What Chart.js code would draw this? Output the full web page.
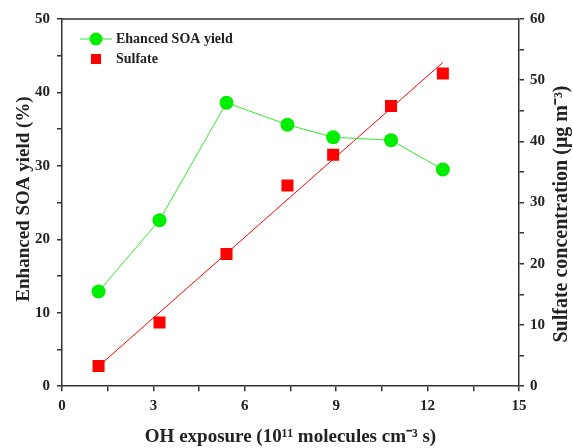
<!DOCTYPE html>
<html lang="en">
<head>
<meta charset="UTF-8">
<title>SOA yield vs OH exposure</title>
<script src="https://cdn.jsdelivr.net/npm/chart.js@4.4.0/dist/chart.umd.min.js"></script>
<style>
  body { margin: 0; background: #fff; }
  #wrap { width: 573px; height: 448px; }
</style>
</head>
<body>
<div id="wrap"><canvas id="chart"></canvas></div>
<script>
// OH exposure (10^11 molecules cm^-3 s)
var ohExposure = [1.2, 3.2, 5.4, 7.4, 8.9, 10.8, 12.5];
// enhanced SOA yield (%) - left axis
var soaYield = [12.9, 22.6, 38.6, 35.6, 33.9, 33.5, 29.5];
// sulfate (ug m-3) - right axis
var sulfate = [3.3, 10.4, 21.6, 32.8, 37.8, 45.8, 51.1];
// linear fit of sulfate, end points
var fitX = [1.2, 12.5];
var fitY = [3.25, 52.9];

function pairs(xs, ys) {
    return xs.map(function (x, i) { return { x: x, y: ys[i] }; });
}

var serif = "'Liberation Serif', 'Times New Roman', serif";
var green = '#00ee00';
var greenLine = '#33e833';
var red = '#ff0000';

function verticalTitle(ctx, text, x, y, size) {
    ctx.save();
    ctx.translate(x, y);
    ctx.rotate(-Math.PI / 2);
    ctx.fillStyle = '#222';
    ctx.font = 'bold ' + size + 'px ' + serif;
    ctx.textAlign = 'center';
    ctx.textBaseline = 'middle';
    ctx.fillText(text, 0, 0);
    ctx.restore();
}

// top frame line, y axis titles and the legend
var framePlugin = {
    id: 'frame',
    afterDraw: function (chart) {
        var ctx = chart.ctx, a = chart.chartArea;
        ctx.save();
        ctx.strokeStyle = '#333';
        ctx.lineWidth = 1.5;
        ctx.beginPath();
        ctx.moveTo(a.left, a.top);
        ctx.lineTo(a.right, a.top);
        ctx.stroke();

        verticalTitle(ctx, 'Enhanced SOA yield (%)', 24, 199, 19);
        verticalTitle(ctx, 'Sulfate concentration (μg m⁻³)', 562, 214, 20);

        // legend
        var lx = a.left + 34, ly = a.top + 20;
        ctx.strokeStyle = greenLine;
        ctx.lineWidth = 1;
        ctx.beginPath();
        ctx.moveTo(lx - 16, ly);
        ctx.lineTo(lx + 16, ly);
        ctx.stroke();
        ctx.fillStyle = green;
        ctx.beginPath();
        ctx.arc(lx, ly, 6.5, 0, Math.PI * 2);
        ctx.fill();
        ctx.fillStyle = red;
        ctx.fillRect(lx - 5, ly + 15, 10, 10);
        ctx.fillStyle = '#222';
        ctx.font = 'bold 14px ' + serif;
        ctx.textBaseline = 'middle';
        ctx.fillText('Ehanced SOA yield', lx + 20, ly);
        ctx.fillText('Sulfate', lx + 20, ly + 20);
        ctx.restore();
    }
};

var tickFont = { family: serif, size: 15, weight: 'bold' };
var titleFont = { family: serif, size: 19, weight: 'bold' };
var axisGrid = { drawOnChartArea: false, drawTicks: true, tickLength: 5, color: '#333', lineWidth: 1.5 };
var axisBorder = { color: '#333', width: 1.5 };

new Chart(document.getElementById('chart'), {
    type: 'scatter',
    data: {
        datasets: [{
            label: 'Ehanced SOA yield',
            data: pairs(ohExposure, soaYield),
            yAxisID: 'y',
            showLine: true,
            borderColor: greenLine,
            borderWidth: 1,
            backgroundColor: green,
            pointRadius: 7,
            pointHoverRadius: 7,
            pointBorderWidth: 0
        }, {
            label: 'Sulfate',
            data: pairs(ohExposure, sulfate),
            yAxisID: 'y1',
            showLine: false,
            backgroundColor: red,
            borderColor: red,
            pointStyle: 'rect',
            pointRadius: 8.5,
            pointHoverRadius: 8.5,
            pointBorderWidth: 0
        }, {
            label: 'fit',
            data: pairs(fitX, fitY),
            yAxisID: 'y1',
            showLine: true,
            borderColor: red,
            borderWidth: 1,
            pointRadius: 0
        }]
    },
    options: {
        responsive: true,
        maintainAspectRatio: false,
        animation: false,
        layout: { padding: { top: 19, right: 22, bottom: 0, left: 28 } },
        plugins: {
            legend: { display: false },
            tooltip: { enabled: false }
        },
        scales: {
            x: {
                type: 'linear',
                min: 0, max: 15,
                ticks: {
                    stepSize: 1.5,
                    color: '#222',
                    font: tickFont,
                    padding: 6,
                    maxRotation: 0,
                    callback: function (v) { return Math.abs(v % 3) < 1e-6 ? v : ''; }
                },
                grid: axisGrid,
                border: axisBorder,
                title: { display: true, text: 'OH exposure (10¹¹ molecules cm⁻³ s)', color: '#222', font: titleFont, padding: { top: 4, bottom: 0 } }
            },
            y: {
                position: 'left',
                min: 0, max: 50,
                ticks: {
                    stepSize: 5,
                    color: '#222',
                    font: tickFont,
                    padding: 7,
                    callback: function (v) { return v % 10 === 0 ? v : ''; }
                },
                grid: axisGrid,
                border: axisBorder,
                title: { display: false }
            },
            y1: {
                position: 'right',
                min: 0, max: 60,
                ticks: {
                    stepSize: 5,
                    color: '#222',
                    font: tickFont,
                    padding: 6,
                    callback: function (v) { return v % 10 === 0 ? v : ''; }
                },
                grid: axisGrid,
                border: axisBorder,
                title: { display: false }
            }
        }
    },
    plugins: [framePlugin]
});
</script>
</body>
</html>
